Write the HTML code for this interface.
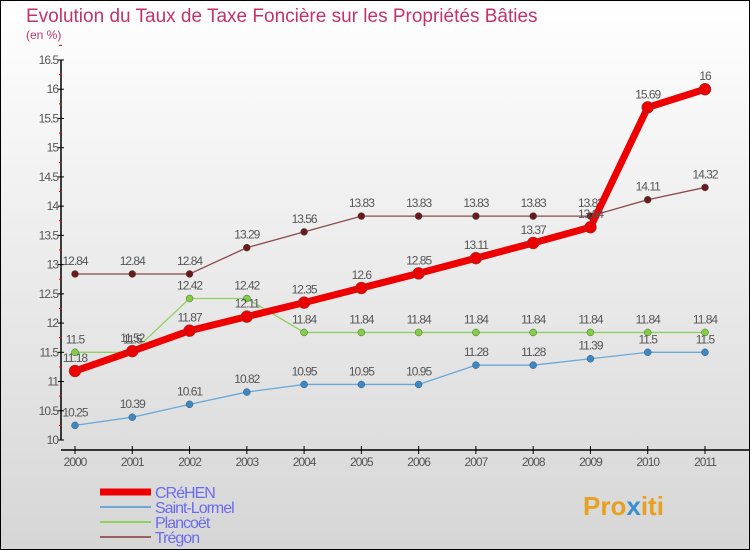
<!DOCTYPE html>
<html><head><meta charset="utf-8"><style>
body{margin:0;}
#c{width:750px;height:550px;position:relative;overflow:hidden;}
svg text{font-family:"Liberation Sans",sans-serif;}
</style></head><body>
<div id="c">
<svg id="s" width="750" height="550" xmlns="http://www.w3.org/2000/svg">
<defs><linearGradient id="bg" x1="0" y1="0" x2="0" y2="1"><stop offset="0" stop-color="#ffffff"/><stop offset="1" stop-color="#d6d6d6"/></linearGradient></defs>
<rect x="0.5" y="0.5" width="749" height="549" fill="url(#bg)" stroke="#000"/>
<text x="26" y="22" font-size="19" fill="#c2336b">Evolution du Taux de Taxe Foncière sur les Propriétés Bâties</text>
<text x="26" y="39" font-size="12" fill="#c2336b">(en %)</text>
<g id="axes"></g><g id="series"></g><g id="legend"></g>
<text x="583" y="515" font-size="26" font-weight="bold" fill="#e8a020">Pro<tspan fill="#3a8fd0">x</tspan>iti</text>
</svg></div>
<script>
const years=[2000,2001,2002,2003,2004,2005,2006,2007,2008,2009,2010,2011];
const yTicks=[10,10.5,11,11.5,12,12.5,13,13.5,14,14.5,15,15.5,16,16.5];
const crehen=[11.18,11.52,11.87,12.11,12.35,12.6,12.85,13.11,13.37,13.64,15.69,16];
const saintLormel=[10.25,10.39,10.61,10.82,10.95,10.95,10.95,11.28,11.28,11.39,11.5,11.5];
const plancoet=[11.5,11.5,12.42,12.42,11.84,11.84,11.84,11.84,11.84,11.84,11.84,11.84];
const tregon=[12.84,12.84,12.84,13.29,13.56,13.83,13.83,13.83,13.83,13.83,14.11,14.32];
const seriesNames=["CRéHEN","Saint-Lormel","Plancoët","Trégon"];
const NS="http://www.w3.org/2000/svg";
const X=i=>75+i*(630/11);
const Y=v=>440-(v-10)*(380/6.5);
function el(t,a,p){const e=document.createElementNS(NS,t);for(const k in a)e.setAttribute(k,a[k]);p.appendChild(e);return e;}
const ax=document.getElementById('axes');
let yl=el('line',{x1:61,y1:60,x2:61,y2:440,stroke:'#000','stroke-width':1.5},ax);


yTicks.forEach(v=>{
  el('line',{x1:58,y1:Y(v),x2:64,y2:Y(v),stroke:'#000'},ax);
  el('line',{x1:59,y1:Y(v+0.25),x2:62,y2:Y(v+0.25),stroke:'#e00'},ax);
  const t=el('text',{x:58,y:Y(v)+4,'font-size':12,fill:'#555','text-anchor':'end','letter-spacing':'-1'},ax);
  t.textContent=v;
  
  
});
let xl=el('line',{x1:61,y1:450,x2:750,y2:450,stroke:'#000','stroke-width':1.5},ax);


years.forEach((y,i)=>{
  el('line',{x1:X(i),y1:446,x2:X(i),y2:454,stroke:'#000'},ax);
  const t=el('text',{x:X(i),y:466,'font-size':12,fill:'#555','text-anchor':'middle','letter-spacing':'-1'},ax);
  t.textContent=y;
  
  
});
const sg=document.getElementById('series');
function draw(data,color,w,r,fill,name){
  const g=el('g',{},sg);
  
  
  el('polyline',{points:data.map((v,i)=>X(i)+','+Y(v)).join(' '),fill:'none',stroke:color,'stroke-width':w},g);
  data.forEach((v,i)=>{
    const c=el('circle',{cx:X(i),cy:Y(v),r:r,fill:fill,stroke:'#555','stroke-width':0.5},g);
    
    
    const t=el('text',{x:X(i),y:Y(v)-9,'font-size':12,fill:'#555','text-anchor':'middle','letter-spacing':'-1'},g);
    t.textContent=v;
    
    
  });
}
draw(tregon,'#8b4a4a',1.3,3.5,'#6a1a1a','tregon-series');
draw(plancoet,'#90d060',1.3,3.5,'#80d040','plancoet-series');
draw(saintLormel,'#6aa8d8',1.3,3.5,'#3a88c8','saint-lormel-series');
draw(crehen,'#ee0000',7,6,'#ee0000','crehen-series');
const lg=document.getElementById('legend');
const lc=['#ee0000','#6aa8d8','#90d060','#9a6060'],lw=[7,2,2,2];
seriesNames.forEach((n,i)=>{
  const y=492+i*15;
  const g=el('g',{},lg);
  
  
  el('line',{x1:100,y1:y,x2:151,y2:y,stroke:lc[i],'stroke-width':lw[i]},g);
  const t=el('text',{x:155,y:y+6,'font-size':16,fill:'#6b6bee','letter-spacing':'-1'},g);
  t.textContent=n;
});
</script>
</body></html>
